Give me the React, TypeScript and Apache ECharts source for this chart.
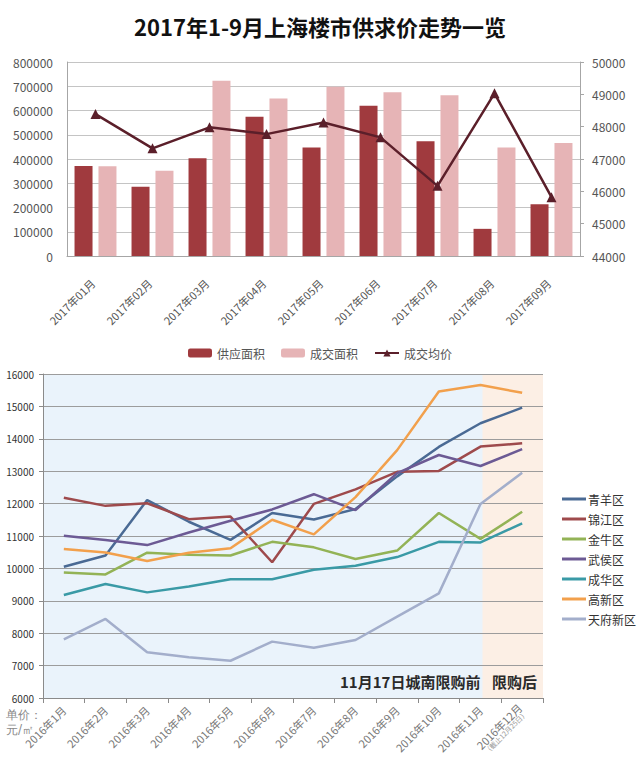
import React, { useEffect, useRef } from "react";
import * as echarts from "echarts";

const months2017 = ["2017年01月", "2017年02月", "2017年03月", "2017年04月", "2017年05月", "2017年06月", "2017年07月", "2017年08月", "2017年09月"];
const supplyArea = [371000, 286000, 403000, 574000, 447000, 620000, 473000, 112000, 213000];
const dealArea = [370000, 352000, 723000, 650000, 698000, 675000, 663000, 447000, 466000];
const avgPrice = [48390, 47330, 47980, 47770, 48130, 47670, 46170, 49030, 45820];

const months2016 = ["2016年1月", "2016年2月", "2016年3月", "2016年4月", "2016年5月", "2016年6月", "2016年7月", "2016年8月", "2016年9月", "2016年10月", "2016年11月", "2016年12月"];
const districtNames = ["青羊区", "锦江区", "金牛区", "武侯区", "成华区", "高新区", "天府新区"];
const qingyang = [10050, 10400, 12110, 11440, 10880, 11710, 11510, 11830, 12840, 13750, 14480, 14960];
const jinjiang = [12180, 11930, 12010, 11520, 11600, 10190, 11990, 12440, 12980, 13010, 13760, 13860];
const jinniu = [9870, 9815, 10485, 10420, 10400, 10820, 10650, 10290, 10550, 11710, 10910, 11750];
const wuhou = [11010, 10880, 10720, 11110, 11470, 11820, 12290, 11800, 12940, 13500, 13160, 13680];
const chenghua = [9180, 9520, 9260, 9440, 9665, 9665, 9960, 10080, 10350, 10820, 10800, 11390];
const gaoxin = [10600, 10490, 10230, 10480, 10620, 11500, 11050, 12200, 13650, 15460, 15660, 15420];
const tianfu = [7810, 8440, 7410, 7256, 7150, 7740, 7550, 7790, 8510, 9230, 11990, 12950];
const districtData = [qingyang, jinjiang, jinniu, wuhou, chenghua, gaoxin, tianfu];
const districtColors = ["#4a6a94", "#9e4a4c", "#93b356", "#6c5a94", "#3a9aa6", "#f2a04c", "#a3aecb"];

const FONT = "'Noto Sans CJK SC', 'Noto Sans', sans-serif";
const plain = (v: number) => String(v);

export default function App() {
  const ref = useRef<HTMLDivElement>(null);
  useEffect(() => {
    if (!ref.current) return;
    const chart = echarts.init(ref.current, undefined, { renderer: "svg" });
    const g2 = { left: 43, top: 374, width: 500, height: 324 };
    const catW = g2.width / months2016.length;
    const orangeX = g2.left + catW * 10.5 + 2;

    const option: any = {
      animation: false,
      backgroundColor: "#ffffff",
      textStyle: { fontFamily: FONT },
      title: {
        text: "2017年1-9月上海楼市供求价走势一览",
        left: "center",
        top: 10,
        textStyle: { fontSize: 22, fontWeight: "bold", color: "#111", fontFamily: FONT },
      },
      legend: [
        {
          data: ["供应面积", "成交面积", "成交均价"],
          left: "center",
          top: 342,
          itemWidth: 24,
          itemHeight: 9,
          itemGap: 16,
          textStyle: { fontSize: 12, color: "#555", fontFamily: FONT },
        },
        {
          data: districtNames,
          orient: "vertical",
          left: 557,
          top: 488,
          itemWidth: 24,
          itemHeight: 3,
          itemGap: 8,
          icon: "rect",
          textStyle: { fontSize: 12, color: "#333", fontFamily: FONT, padding: [0, 0, 0, -3] },
        },
      ],
      grid: [
        { left: 67, top: 62, width: 513, height: 194 },
        { ...g2, show: true, backgroundColor: "#eaf3fb", borderWidth: 0, z: -2 },
      ],
      xAxis: [
        {
          type: "category",
          gridIndex: 0,
          data: months2017,
          axisLine: { lineStyle: { color: "#a6a6a6" } },
          axisTick: { show: false },
          axisLabel: { rotate: 45, interval: 0, fontSize: 11, color: "#555", margin: 22, padding: [0, 4, 0, 0] },
        },
        {
          type: "category",
          gridIndex: 1,
          data: months2016,
          axisLine: { lineStyle: { color: "#8a8a8a" } },
          axisTick: { show: true, length: 5, lineStyle: { color: "#8a8a8a" } },
          axisLabel: {
            rotate: 45,
            interval: 0,
            fontSize: 11,
            color: "#777",
            margin: 10,
            formatter: (v: string) => (v === "2016年12月" ? v + "\n{s|（截止12月25日）}" : v),
            rich: { s: { fontSize: 7, color: "#999" } },
          },
        },
      ],
      yAxis: [
        {
          type: "value",
          gridIndex: 0,
          min: 0,
          max: 800000,
          interval: 100000,
          axisLine: { show: true, lineStyle: { color: "#a6a6a6" } },
          axisTick: { show: false },
          axisLabel: { fontSize: 12, color: "#555", margin: 14, formatter: plain },
          splitLine: { lineStyle: { color: "#c4c4c4" } },
        },
        {
          type: "value",
          gridIndex: 0,
          position: "right",
          min: 44000,
          max: 50000,
          interval: 1000,
          axisLine: { show: true, lineStyle: { color: "#a6a6a6" } },
          axisTick: { show: true, length: 4, lineStyle: { color: "#a6a6a6" } },
          axisLabel: { fontSize: 12, color: "#555", margin: 12, formatter: plain },
          splitLine: { show: false },
        },
        {
          type: "value",
          gridIndex: 1,
          min: 6000,
          max: 16000,
          interval: 1000,
          axisLine: { show: true, lineStyle: { color: "#8a8a8a" } },
          axisTick: { show: true, length: 4, lineStyle: { color: "#8a8a8a" } },
          axisLabel: { fontSize: 10, color: "#333", margin: 9, formatter: plain },
          splitLine: { lineStyle: { color: "#9c9c9c" } },
        },
      ],
      series: [
        {
          name: "供应面积",
          type: "bar",
          xAxisIndex: 0,
          yAxisIndex: 0,
          data: supplyArea,
          barWidth: 18,
          barGap: "33%",
          itemStyle: { color: "#a03a3e" },
        },
        {
          name: "成交面积",
          type: "bar",
          xAxisIndex: 0,
          yAxisIndex: 0,
          data: dealArea,
          barWidth: 18,
          barGap: "33%",
          itemStyle: { color: "#e6b4b6" },
        },
        {
          name: "成交均价",
          type: "line",
          xAxisIndex: 0,
          yAxisIndex: 1,
          data: avgPrice,
          symbol: "triangle",
          symbolSize: 10,
          lineStyle: { color: "#5b1f2a", width: 2.5 },
          itemStyle: { color: "#5b1f2a" },
        },
        ...districtNames.map((n, i) => ({
          name: n,
          type: "line",
          xAxisIndex: 1,
          yAxisIndex: 2,
          data: districtData[i],
          symbol: "none",
          lineStyle: { color: districtColors[i], width: 2.5 },
          itemStyle: { color: districtColors[i] },
        })),
      ],
      graphic: [
        {
          type: "rect",
          z: -1,
          silent: true,
          shape: { x: orangeX, y: g2.top, width: g2.left + g2.width - orangeX, height: g2.height },
          style: { fill: "#fcefe5" },
        },
        {
          type: "text",
          x: 340,
          y: 681,
          style: { text: "11月17日城南限购前", fontSize: 15, fontWeight: "bold", fill: "#2a2a2a", fontFamily: FONT, verticalAlign: "middle" },
        },
        {
          type: "text",
          x: 492,
          y: 681,
          style: { text: "限购后", fontSize: 15, fontWeight: "bold", fill: "#2a2a2a", fontFamily: FONT, verticalAlign: "middle" },
        },
        {
          type: "text",
          x: 6,
          y: 707,
          style: { text: "单价：\n元/㎡", fontSize: 12, lineHeight: 15, fill: "#888", fontFamily: "'DejaVu Serif', serif" },
        },
      ],
    };
    chart.setOption(option);
    return () => chart.dispose();
  }, []);
  return <div ref={ref} style={{ position: "absolute", left: 0, top: 0, width: 640, height: 768 }} />;
}
